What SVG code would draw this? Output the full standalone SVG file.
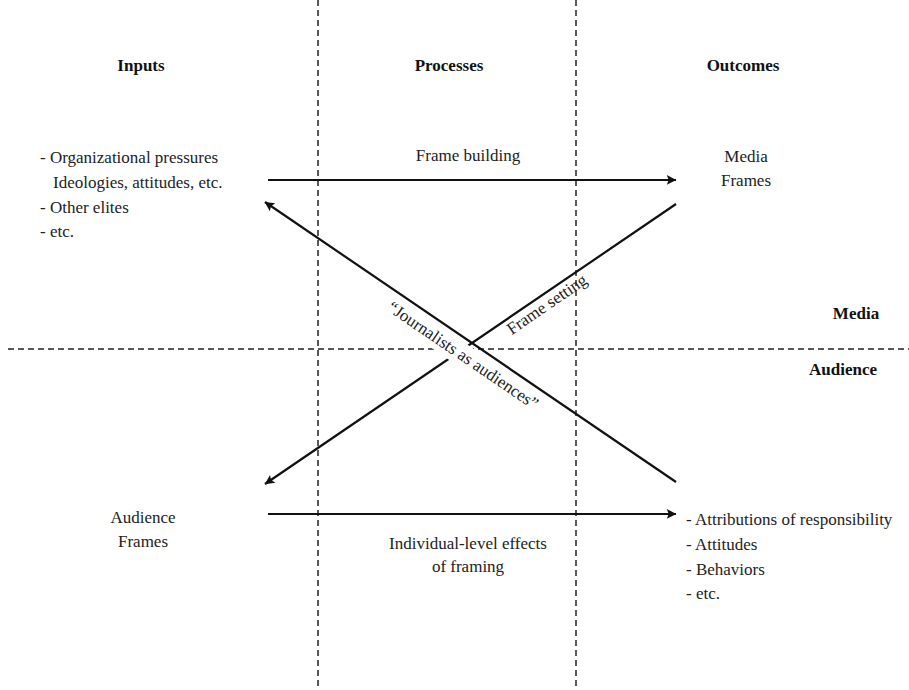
<svg xmlns="http://www.w3.org/2000/svg" width="909" height="690" viewBox="0 0 909 690">
<style>
text{fill:#222;font-size:17px}
.h{font-weight:bold;fill:#111}
.c{text-anchor:middle}
.dash{stroke:#222;stroke-width:1.5;stroke-dasharray:6 4;fill:none}
.arr{stroke:#111;stroke-width:2.2;fill:none;marker-end:url(#ah)}
</style>
<defs>
<marker id="ah" viewBox="0 0 10 10" refX="9" refY="5" markerWidth="6" markerHeight="6" markerUnits="userSpaceOnUse" orient="auto" overflow="visible">
<path d="M0,0 L10,5 L0,10 L2,5 Z" fill="#111" transform="scale(1.6) translate(-4,-2)"/>
</marker>
</defs>
<rect width="909" height="690" fill="#fff"/>
<g id="gridlines">
<line class="dash" x1="318" y1="0" x2="318" y2="690"/>
<line class="dash" x1="576" y1="0" x2="576" y2="690"/>
<line class="dash" x1="8" y1="349" x2="909" y2="349"/>
</g>
<g font-family="'Liberation Serif', Tinos, 'Times New Roman', 'Noto Serif', 'DejaVu Serif', serif">
<g id="headers">
<text class="h c" x="141" y="71">Inputs</text>
<text class="h c" x="449" y="71">Processes</text>
<text class="h c" x="743" y="71">Outcomes</text>
<text class="h c" x="856" y="319">Media</text>
<text class="h c" x="843" y="375">Audience</text>
</g>
<g id="inputs">
<text x="40" y="163">- Organizational pressures</text>
<text x="53" y="188">Ideologies, attitudes, etc.</text>
<text x="40" y="213">- Other elites</text>
<text x="40" y="237">- etc.</text>
</g>
<g id="media-frames">
<text class="c" x="746" y="162">Media</text>
<text class="c" x="746" y="186">Frames</text>
</g>
<g id="audience-frames">
<text class="c" x="143" y="523">Audience</text>
<text class="c" x="143" y="547">Frames</text>
</g>
<g id="outcomes">
<text x="686" y="525">- Attributions of responsibility</text>
<text x="686" y="550">- Attitudes</text>
<text x="686" y="575">- Behaviors</text>
<text x="686" y="599">- etc.</text>
</g>
<g id="connectors">
<line class="arr" x1="268" y1="180" x2="676" y2="180"/>
<line class="arr" x1="268" y1="514" x2="676" y2="514"/>
<line class="arr" x1="676" y1="204" x2="265" y2="484"/>
<rect x="-92" y="-17" width="184" height="23" fill="#fff" transform="translate(460,360) rotate(34.2)"/>
<line class="arr" x1="676" y1="482" x2="265" y2="202"/>
</g>
<g id="labels">
<text class="c" x="468" y="161">Frame building</text>
<text class="c" x="468" y="549">Individual-level effects</text>
<text class="c" x="468" y="572">of framing</text>
<text class="c" transform="translate(550,309) rotate(-34.4)">Frame setting</text>
<text class="c" transform="translate(460,360) rotate(34.2)">“Journalists as audiences”</text>
</g>
</g>
</svg>
